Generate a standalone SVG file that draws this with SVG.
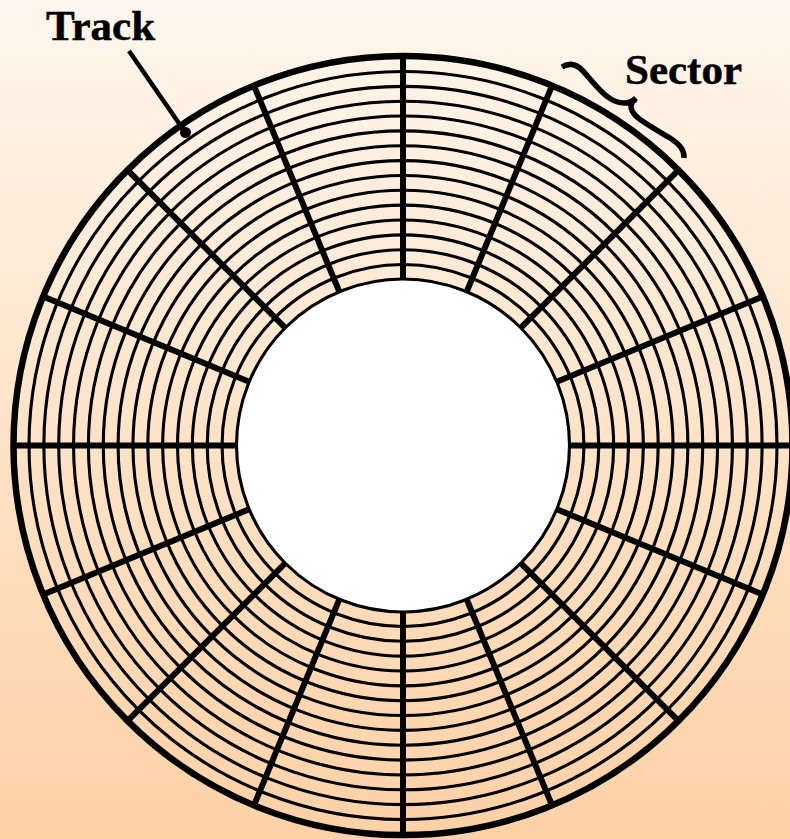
<svg xmlns="http://www.w3.org/2000/svg" xmlns:xlink="http://www.w3.org/1999/xlink" width="790" height="839" viewBox="0 0 790 839">
<style>
.o{fill:none;stroke:#000;stroke-width:6.5}
.r{fill:none;stroke:#000;stroke-width:3.1}
.s{stroke:#000;stroke-width:6}
.t{font-family:"Liberation Serif","Times New Roman",serif;font-weight:bold;fill:#000;stroke:#000;stroke-width:.5}
</style>
<defs>
<linearGradient id="bg" x1="0" y1="0" x2="0" y2="1"><stop offset="0" stop-color="#fff6ed"/><stop offset="1" stop-color="#fdd1a6"/></linearGradient>
<line id="sp" class="s" x1="403" y1="279" x2="403" y2="56"/>
</defs>
<rect width="790" height="839" fill="url(#bg)"/>
<g id="tracks">
<circle class="r" cx="403" cy="445.5" r="374"/>
<circle class="r" cx="403" cy="445.5" r="359.15"/>
<circle class="r" cx="403" cy="445.5" r="344.3"/>
<circle class="r" cx="403" cy="445.5" r="329.45"/>
<circle class="r" cx="403" cy="445.5" r="314.6"/>
<circle class="r" cx="403" cy="445.5" r="299.75"/>
<circle class="r" cx="403" cy="445.5" r="284.9"/>
<circle class="r" cx="403" cy="445.5" r="270.05"/>
<circle class="r" cx="403" cy="445.5" r="255.2"/>
<circle class="r" cx="403" cy="445.5" r="240.35"/>
<circle class="r" cx="403" cy="445.5" r="225.5"/>
<circle class="r" cx="403" cy="445.5" r="210.65"/>
<circle class="r" cx="403" cy="445.5" r="195.8"/>
<circle class="r" cx="403" cy="445.5" r="180.95"/>
</g>
<circle id="hub" cx="403" cy="445.5" r="166.5" fill="#fff" stroke="#000" stroke-width="3.1"/>
<g id="sectors">
<use xlink:href="#sp"/>
<use xlink:href="#sp" transform="rotate(22.5 403 445.5)"/>
<use xlink:href="#sp" transform="rotate(45 403 445.5)"/>
<use xlink:href="#sp" transform="rotate(67.5 403 445.5)"/>
<use xlink:href="#sp" transform="rotate(90 403 445.5)"/>
<use xlink:href="#sp" transform="rotate(112.5 403 445.5)"/>
<use xlink:href="#sp" transform="rotate(135 403 445.5)"/>
<use xlink:href="#sp" transform="rotate(157.5 403 445.5)"/>
<use xlink:href="#sp" transform="rotate(180 403 445.5)"/>
<use xlink:href="#sp" transform="rotate(202.5 403 445.5)"/>
<use xlink:href="#sp" transform="rotate(225 403 445.5)"/>
<use xlink:href="#sp" transform="rotate(247.5 403 445.5)"/>
<use xlink:href="#sp" transform="rotate(270 403 445.5)"/>
<use xlink:href="#sp" transform="rotate(292.5 403 445.5)"/>
<use xlink:href="#sp" transform="rotate(315 403 445.5)"/>
<use xlink:href="#sp" transform="rotate(337.5 403 445.5)"/>
</g>
<circle id="platter" class="o" cx="403" cy="445.5" r="389.5"/>
<g id="track-label">
<text class="t" x="46" y="40" font-size="43">Track</text>
<line x1="129" y1="51" x2="185" y2="132" stroke="#000" stroke-width="4.5"/>
<circle cx="185.5" cy="132.5" r="5.5"/>
</g>
<g id="sector-label">
<text class="t" x="625" y="84" font-size="43">Sector</text>
<path d="M562 67C567 64 574 62 582 70C588 76 600 92 608 97C614 102 620 103 625 103C630 103 633 101 636 98M636 99C630 102 629 108 635 115C640 121 660 132 670 138C678 143 685 149 684 158" fill="none" stroke="#000" stroke-width="5.5"/>
</g>
</svg>
